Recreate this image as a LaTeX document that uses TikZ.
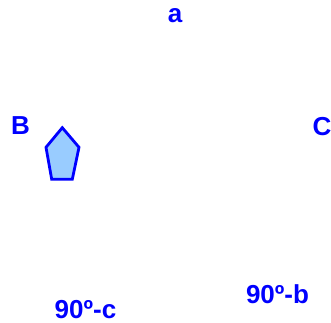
\documentclass[tikz,border=0pt]{standalone}
\usepackage{fontspec}
\setmainfont{Liberation Sans}
\definecolor{lblue}{RGB}{153,204,255}
\definecolor{dblue}{RGB}{0,0,255}
\begin{document}
\begin{tikzpicture}[x=1pt,y=-1pt,
  lbl/.style={text=dblue,font=\fontsize{26}{28}\selectfont\bfseries,inner sep=0pt,anchor=base}]
\useasboundingbox (0,0) rectangle (331,322);
\node[lbl] (a) at (175,22) {a};
\node[lbl] (B) at (20.5,134) {B};
\node[lbl] (C) at (322,135) {C};
\node[lbl] (c90) at (85.5,318) {90º-c};
\node[lbl] (b90) at (277.5,303) {90º-b};
\draw[dblue,fill=lblue,line width=2.8pt,line join=miter] (62.3,127.7) -- (79,147.3) -- (72.3,179.3) -- (51.7,179.3) -- (46,147.3) -- cycle;
\end{tikzpicture}
\end{document}
